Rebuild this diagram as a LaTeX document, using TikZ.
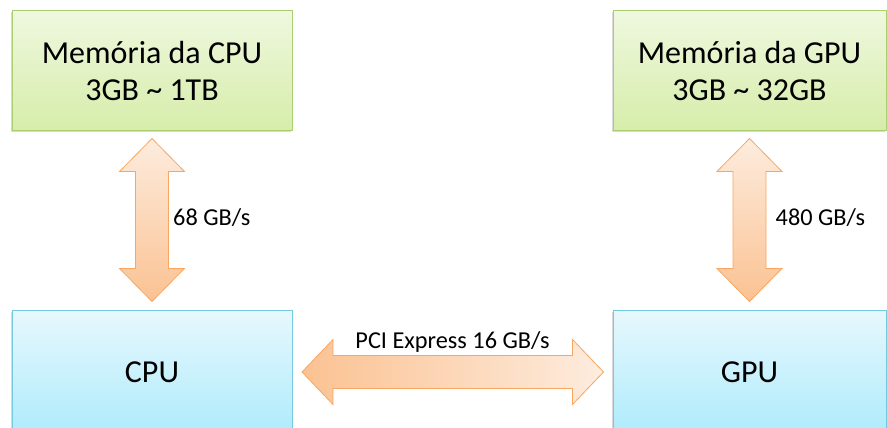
\documentclass[tikz,border=0pt]{standalone}
\usepackage{fontspec}
\setmainfont{Carlito}
\usepackage{tikz}
\usetikzlibrary{calc,shadows}
\definecolor{memTop}{RGB}{239,248,223}
\definecolor{memBottom}{RGB}{214,237,170}
\definecolor{memLine}{RGB}{170,206,112}
\definecolor{chipTop}{RGB}{231,248,253}
\definecolor{chipBottom}{RGB}{174,235,252}
\definecolor{chipLine}{RGB}{118,202,224}
\definecolor{linkDark}{RGB}{251,194,146}
\definecolor{linkLight}{RGB}{253,236,222}
\definecolor{linkLine}{RGB}{248,166,96}
\tikzstyle{canvas} = [x = 1pt, y = -1pt]
\tikzstyle{boxStyle} = [draw, line width=1pt, minimum width=280pt, inner sep=0pt, align=center,
  font=\fontsize{32}{37}\selectfont,
  drop shadow={shadow xshift=-1.5pt, shadow yshift=-1.5pt, opacity=.25, fill=black!60}]
\tikzstyle{memBox} = [boxStyle, draw=memLine, top color=memTop, bottom color=memBottom, minimum height=119pt]
\tikzstyle{chipBox} = [boxStyle, draw=chipLine, top color=chipTop, bottom color=chipBottom, minimum height=124pt]
\tikzstyle{linkStyle} = [draw=linkLine, line width=.8pt, line join=miter]
\tikzstyle{rateText} = [inner sep=0pt, font=\fontsize{24.3}{28}\selectfont]
\newcommand{\linkGap}{8}
\newcommand{\headHalf}{32.5}
\newcommand{\shaftHalf}{16.5}
\newcommand{\headLength}{33}
\newcommand{\verticalLink}[2]{\path [linkStyle, top color=linkLight, bottom color=linkDark]
  ($(#1.south)+(0,\linkGap)$) -- ++(\headHalf,\headLength) -- ++(-\headHalf+\shaftHalf,0)
  -- ($(#2.north)+(\shaftHalf,-\linkGap-\headLength)$) -- ++(\headHalf-\shaftHalf,0)
  -- ($(#2.north)+(0,-\linkGap)$) -- ++(-\headHalf,-\headLength) -- ++(\headHalf-\shaftHalf,0)
  -- ($(#1.south)+(-\shaftHalf,\linkGap+\headLength)$) -- ++(-\headHalf+\shaftHalf,0) -- cycle;}
\newcommand{\horizontalLink}[2]{\path [linkStyle, left color=linkDark, right color=linkLight]
  ($(#1.east)+(\linkGap+1.5,0)$) -- ++(\headLength-2,-\headHalf) -- ++(0,\headHalf-\shaftHalf)
  -- ($(#2.west)+(-\linkGap-1-\headLength+2,-\shaftHalf)$) -- ++(0,-\headHalf+\shaftHalf)
  -- ($(#2.west)+(-\linkGap-1,0)$) -- ++(-\headLength+2,\headHalf) -- ++(0,-\headHalf+\shaftHalf)
  -- ($(#1.east)+(\linkGap+1.5+\headLength-2,\shaftHalf)$) -- ++(0,\headHalf-\shaftHalf) -- cycle;}
\begin{document}
\begin{tikzpicture}[canvas]
  \useasboundingbox (0,0) rectangle (887,428);

  \node [memBox] (cpuMem) at (152,70.5) {Memória da CPU\\3GB \textasciitilde{} 1TB};
  \node [memBox, minimum width=273pt] (gpuMem) at (749.5,70.5) {Memória da GPU\\3GB \textasciitilde{} 32GB};
  \node [chipBox] (cpu) at (152,372) {CPU};
  \node [chipBox, minimum width=273pt] (gpu) at (749.5,372) {GPU};

  \verticalLink{cpuMem}{cpu}
  \verticalLink{gpuMem}{gpu}
  \horizontalLink{cpu}{gpu}

  \node [rateText, anchor=base west] (cpuRate) at ($(cpuMem.south)!.5!(cpu.north)+(21,5)$) {68 GB/s};
  \node [rateText, anchor=base west] (gpuRate) at ($(gpuMem.south)!.5!(gpu.north)+(26,5)$) {480 GB/s};
  \node [rateText, anchor=base] (pciRate) at ($(cpu.east)!.5!(gpu.west)+(0,-24)$) {PCI Express 16 GB/s};
\end{tikzpicture}
\end{document}
